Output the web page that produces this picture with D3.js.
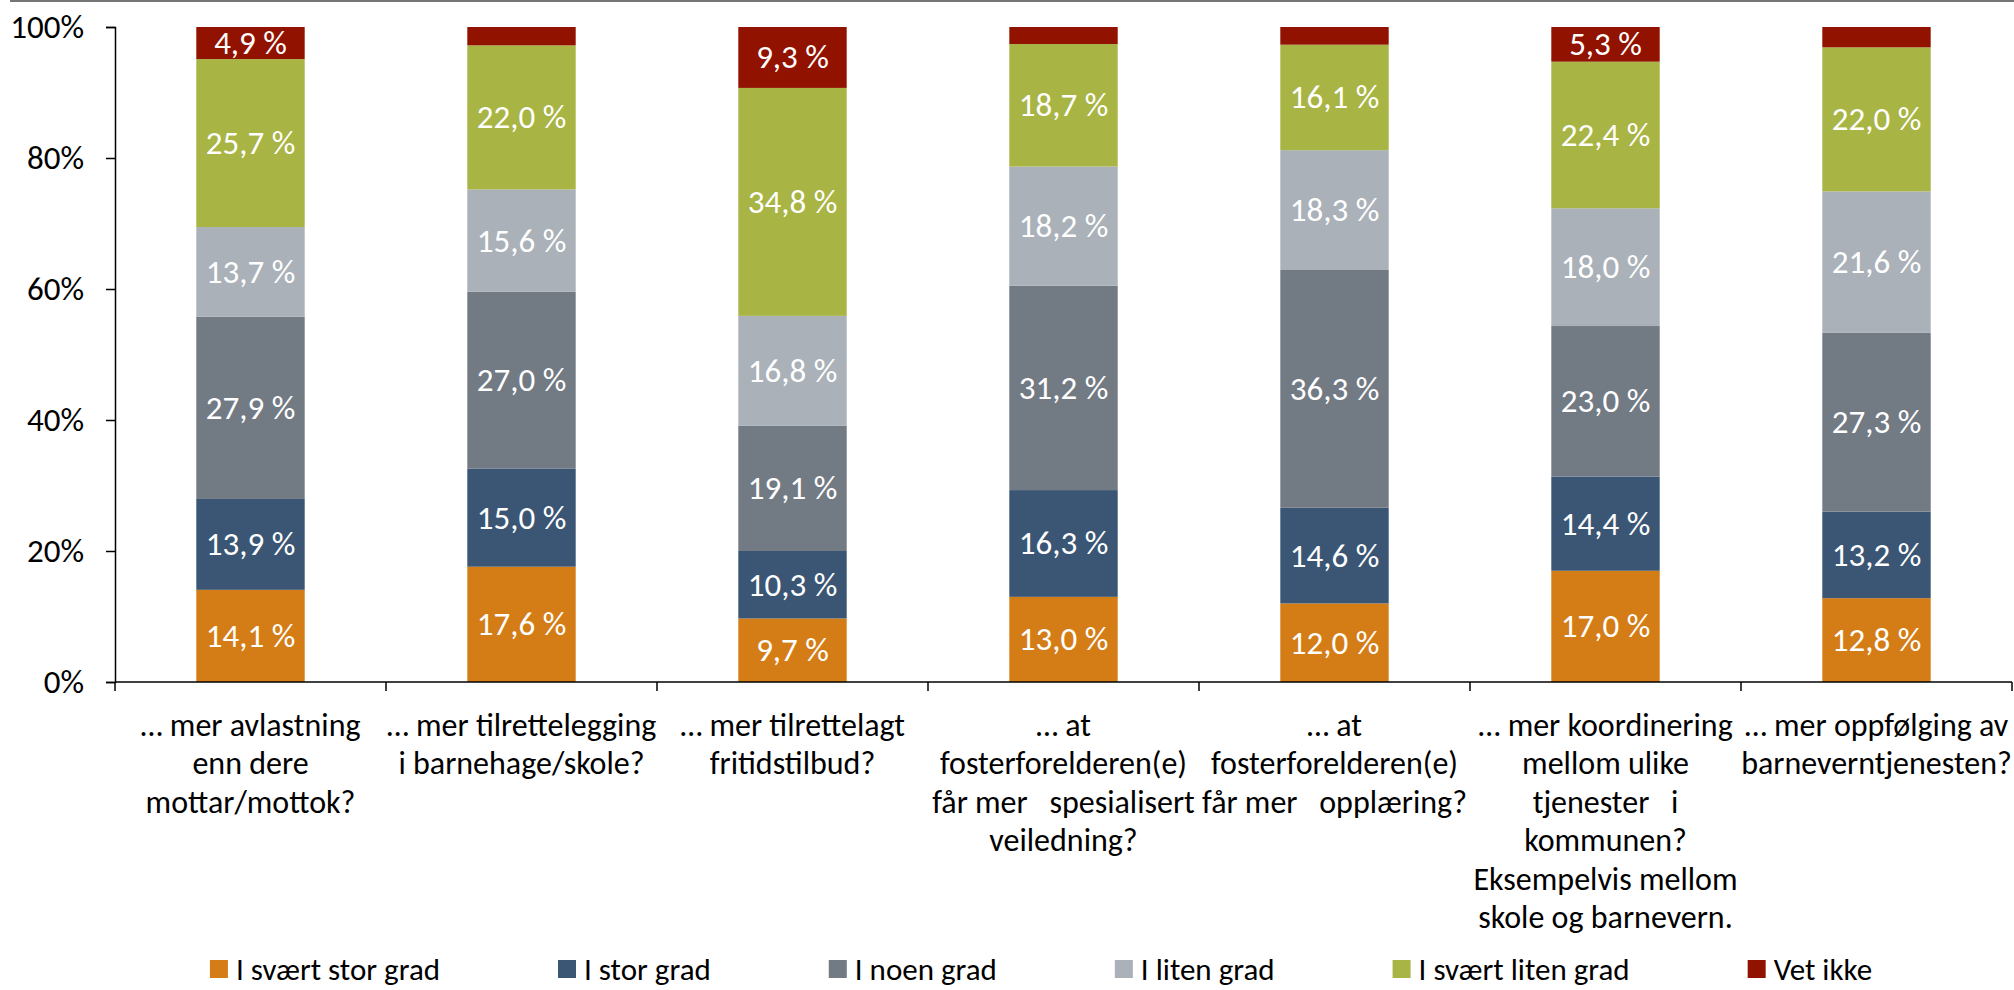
<!DOCTYPE html>
<html>
<head>
<meta charset="utf-8">
<script src="https://cdn.jsdelivr.net/npm/d3@7"></script>
<style>
  body { margin: 0; background: #fff; }
  svg text { font-family: Carlito, Lato, sans-serif; }
</style>
</head>
<body>
<div id="chart"></div>
<script>
// x tick labels, one entry per line as in the original
const categories = [
    ["… mer avlastning", "enn dere", "mottar/mottok?"],
    ["… mer tilrettelegging", "i barnehage/skole?"],
    ["… mer tilrettelagt", "fritidstilbud?"],
    ["… at", "fosterforelderen(e)", "får mer   spesialisert", "veiledning?"],
    ["… at", "fosterforelderen(e)", "får mer   opplæring?"],
    ["… mer koordinering", "mellom ulike", "tjenester   i", "kommunen?", "Eksempelvis mellom", "skole og barnevern."],
    ["… mer oppfølging av", "barneverntjenesten?"]
];

const seriesNames = ["I svært stor grad", "I stor grad", "I noen grad", "I liten grad", "I svært liten grad", "Vet ikke"];

// percent per category, bottom to top
const svaertStorGrad = [14.1, 17.6, 9.7, 13.0, 12.0, 17.0, 12.8];
const storGrad = [13.9, 15.0, 10.3, 16.3, 14.6, 14.4, 13.2];
const noenGrad = [27.9, 27.0, 19.1, 31.2, 36.3, 23.0, 27.3];
const litenGrad = [13.7, 15.6, 16.8, 18.2, 18.3, 18.0, 21.6];
const svaertLitenGrad = [25.7, 22.0, 34.8, 18.7, 16.1, 22.4, 22.0];
const vetIkke = [4.9, 2.8, 9.3, 2.6, 2.7, 5.3, 3.1];

const seriesColors = ["#d47d17", "#3a5674", "#727a84", "#aab1b8", "#a8b443", "#921200"];
const yTicks = [0, 0.2, 0.4, 0.6, 0.8, 1];

document.addEventListener('DOMContentLoaded', function () {
    const width = 2014;
    const height = 990;

    const svg = d3.select("#chart")
        .append("svg")
        .attr("width", width)
        .attr("height", height);

    // thin grey rule along the top edge
    svg.append("line")
        .attr("x1", 10).attr("x2", width)
        .attr("y1", 1).attr("y2", 1)
        .attr("stroke", "#767676")
        .attr("stroke-width", 2);

    const allSeries = [svaertStorGrad, storGrad, noenGrad, litenGrad, svaertLitenGrad, vetIkke];
    const rows = categories.map((c, i) => {
        const row = { idx: i };
        seriesNames.forEach((name, s) => { row[name] = allSeries[s][i]; });
        return row;
    });

    const stacked = d3.stack()
        .keys(seriesNames)
        .offset(d3.stackOffsetExpand)(rows);

    const x = d3.scaleBand()
        .domain(d3.range(categories.length))
        .range([115, 2012])
        .paddingInner(0.6)
        .paddingOuter(0.3);

    const y = d3.scaleLinear()
        .domain([0, 1])
        .range([682, 27]);

    const color = d3.scaleOrdinal().domain(seriesNames).range(seriesColors);
    const fmt = d3.formatLocale({ decimal: ",", thousands: " ", grouping: [3], currency: ["", " kr"] }).format(".1f");

    // bars
    const layer = svg.append("g").selectAll("g")
        .data(stacked)
        .enter().append("g")
        .attr("fill", d => color(d.key));

    layer.selectAll("rect")
        .data(d => d)
        .enter().append("rect")
        .attr("x", d => x(d.data.idx))
        .attr("width", x.bandwidth())
        .attr("y", d => y(d[1]))
        .attr("height", d => y(d[0]) - y(d[1]));

    // value labels inside the segments (small ones left blank)
    const labels = svg.append("g");
    stacked.forEach(s => {
        s.forEach(d => {
            const v = d.data[s.key];
            if (v < 4) return;
            labels.append("text")
                .attr("x", x(d.data.idx) + x.bandwidth() / 2)
                .attr("y", (y(d[0]) + y(d[1])) / 2)
                .attr("text-anchor", "middle")
                .attr("dominant-baseline", "central")
                .attr("fill", "#fff")
                .attr("font-size", 33)
                .text(fmt(v) + " %");
        });
    });

    // y axis
    const yAxis = svg.append("g")
        .attr("transform", "translate(115,0)")
        .call(d3.axisLeft(y).tickValues(yTicks).tickFormat(d3.format(".0%")).tickSize(9).tickPadding(22));
    yAxis.select(".domain").attr("stroke", "#000").attr("stroke-width", 1.5);
    yAxis.selectAll(".tick line").attr("stroke", "#000").attr("stroke-width", 1.5);
    yAxis.selectAll(".tick text")
        .attr("font-size", 33)
        .attr("fill", "#000")
        .attr("font-family", "Carlito, Lato, sans-serif");

    // x axis line with ticks on the category borders
    const x0 = x.range()[0];
    const borders = d3.range(categories.length + 1).map(i => x0 + i * x.step());
    svg.append("line")
        .attr("x1", x0).attr("x2", x.range()[1])
        .attr("y1", y(0)).attr("y2", y(0))
        .attr("stroke", "#000").attr("stroke-width", 1.5);
    svg.append("g").selectAll("line")
        .data(borders)
        .enter().append("line")
        .attr("x1", d => d).attr("x2", d => d)
        .attr("y1", y(0)).attr("y2", y(0) + 9)
        .attr("stroke", "#000").attr("stroke-width", 1.5);

    // category labels
    const catText = svg.append("g").selectAll("text")
        .data(categories)
        .enter().append("text")
        .attr("x", (d, i) => x(i) + x.bandwidth() / 2)
        .attr("y", 725)
        .attr("text-anchor", "middle")
        .attr("font-size", 32)
        .attr("fill", "#000")
        .style("white-space", "pre");
    catText.selectAll("tspan")
        .data(d => d)
        .enter().append("tspan")
        .attr("x", function () { return this.parentNode.getAttribute("x"); })
        .attr("y", (d, j) => 725 + j * 38.5)
        .attr("dominant-baseline", "central")
        .text(d => d);

    // legend, laid out from measured text widths
    const legend = svg.append("g");
    let lx = 0;
    seriesNames.forEach((name, i) => {
        const g = legend.append("g");
        g.append("rect")
            .attr("x", lx).attr("y", 960)
            .attr("width", 18).attr("height", 18)
            .attr("fill", color(name));
        const t = g.append("text")
            .attr("x", lx + 26).attr("y", 969)
            .attr("dominant-baseline", "central")
            .attr("font-size", 31)
            .attr("fill", "#000")
            .text(name);
        const w = t.node().getComputedTextLength();
        lx += 26 + w + 118;
    });
    const legendWidth = lx - 118;
    legend.attr("transform", "translate(" + (1041 - legendWidth / 2) + ",0)");
});
</script>
</body>
</html>
